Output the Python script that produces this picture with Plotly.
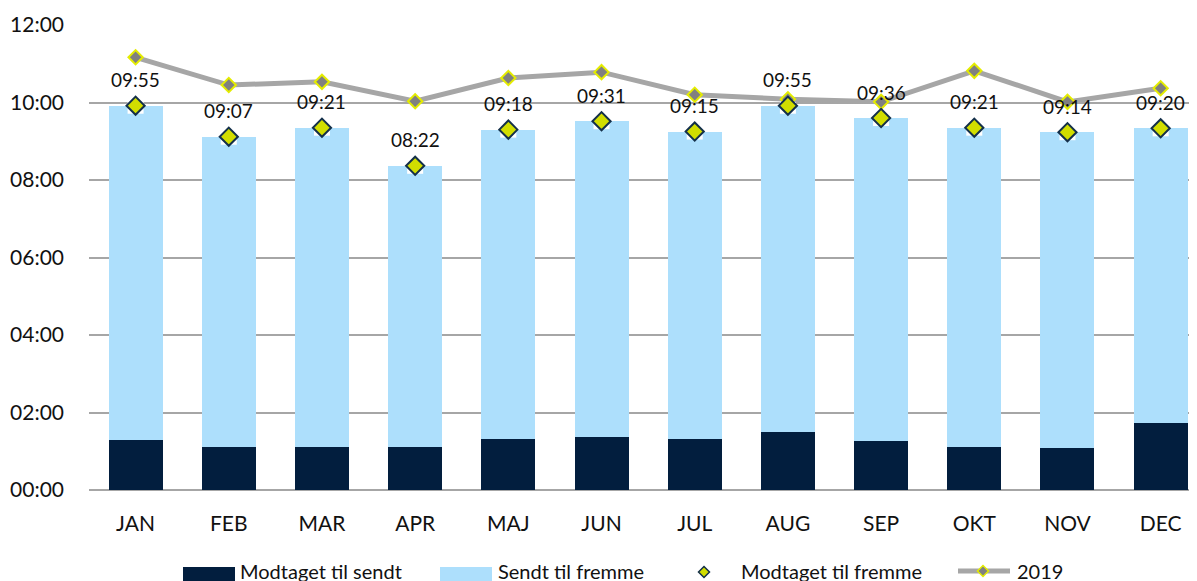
import plotly.graph_objects as go

months = ["JAN", "FEB", "MAR", "APR", "MAJ", "JUN", "JUL", "AUG", "SEP", "OKT", "NOV", "DEC"]
modtaget_til_sendt = ["01:17", "01:07", "01:07", "01:07", "01:19", "01:22", "01:19", "01:30", "01:16", "01:07", "01:05", "01:44"]
modtaget_til_fremme = ["09:55", "09:07", "09:21", "08:22", "09:18", "09:31", "09:15", "09:55", "09:36", "09:21", "09:14", "09:20"]
y2019 = ["11:10", "10:27", "10:32", "10:02", "10:38", "10:47", "10:12", "10:05", "10:01", "10:49", "10:01", "10:22"]
ytick_labels = ["00:00", "02:00", "04:00", "06:00", "08:00", "10:00", "12:00"]
legend_names = ["Modtaget til sendt", "Sendt til fremme", "Modtaget til fremme", "2019"]


def hours(s):
    h, m = s.split(":")
    return int(h) + int(m) / 60.0


sendt_h = [hours(v) for v in modtaget_til_sendt]
total_h = [hours(v) for v in modtaget_til_fremme]
fremme_h = [t - s for t, s in zip(total_h, sendt_h)]
line_h = [hours(v) for v in y2019]
tick_vals = [hours(v) for v in ytick_labels]

FONT = "Lato, 'Liberation Sans', sans-serif"
TXT = "#111111"
DARK = "#021E3E"
LIGHT = "#ADDFFC"
YG = "#D2DE00"
GRAY = "#A6A6A6"

# the page places the figure 8px from the top-left corner (default body margin)
OFF = 8
W, H = 1197, 581
ML, MT = 89 - OFF, 25 - OFF
PW, PH = 1108, 465
MR = W - ML - PW
MB = H - MT - PH


def px(x):
    """page pixel x -> paper coordinate"""
    return (x - OFF - ML) / PW


def py(y):
    """page pixel y -> paper coordinate"""
    return (MT + PH - (y - OFF)) / PH


fig = go.Figure()
fig.add_trace(go.Bar(x=months, y=sendt_h, name=legend_names[0],
                     marker=dict(color=DARK, line=dict(width=0)), hoverinfo="skip"))
fig.add_trace(go.Bar(x=months, y=fremme_h, name=legend_names[1],
                     marker=dict(color=LIGHT, line=dict(width=0)), hoverinfo="skip"))
# white patch behind diamonds
fig.add_trace(go.Scatter(x=months, y=total_h, mode="markers", showlegend=False,
                         marker=dict(symbol="square", size=16, color="white", line=dict(width=0)),
                         hoverinfo="skip"))
fig.add_trace(go.Scatter(x=months, y=line_h, name=legend_names[3], mode="lines+markers",
                         line=dict(color=GRAY, width=5),
                         marker=dict(symbol="diamond", size=11, color="#808080",
                                     line=dict(color="#E4EC00", width=2))))
fig.add_trace(go.Scatter(x=months, y=total_h, name=legend_names[2], mode="markers",
                         marker=dict(symbol="diamond", size=14, color=YG,
                                     line=dict(color="#14304A", width=2))))

# data labels
for m, v, lab in zip(months, total_h, modtaget_til_fremme):
    fig.add_annotation(x=m, y=v, text=lab, showarrow=False, yshift=26,
                       xanchor="center", yanchor="middle",
                       font=dict(family=FONT, size=19, color=TXT))

# custom legend
shapes = []
ly = 571
shapes.append(dict(type="rect", xref="paper", yref="paper", x0=px(183), x1=px(235),
                   y0=py(581), y1=py(567), fillcolor=DARK, line=dict(width=0)))
shapes.append(dict(type="rect", xref="paper", yref="paper", x0=px(440), x1=px(492),
                   y0=py(581), y1=py(567), fillcolor=LIGHT, line=dict(width=0)))


def diamond(cx, cy, r, fill, outline, lw):
    path = (f"M {px(cx - r)} {py(cy)} L {px(cx)} {py(cy - r)} "
            f"L {px(cx + r)} {py(cy)} L {px(cx)} {py(cy + r)} Z")
    return dict(type="path", xref="paper", yref="paper", path=path,
                fillcolor=fill, line=dict(color=outline, width=lw))


shapes.append(diamond(704, 572, 5.5, YG, "#14304A", 1.5))
shapes.append(dict(type="line", xref="paper", yref="paper", x0=px(958), x1=px(1010),
                   y0=py(571), y1=py(571), line=dict(color=GRAY, width=5)))
shapes.append(diamond(983, 571, 5.5, "#808080", "#E4EC00", 1.5))

for name, x0 in zip(legend_names, [238, 496, 739, 1015]):
    fig.add_annotation(xref="paper", yref="paper", x=px(x0), y=py(ly), text=name,
                       showarrow=False, xanchor="left", yanchor="middle",
                       font=dict(family=FONT, size=20, color=TXT))

fig.update_layout(
    barmode="stack",
    bargap=0.42,
    width=W, height=H,
    margin=dict(l=ML, r=MR, t=MT, b=MB),
    plot_bgcolor="white", paper_bgcolor="white",
    font=dict(family=FONT, size=21, color=TXT),
    showlegend=False,
    shapes=shapes,
    xaxis=dict(range=[-0.5, 11.39], showgrid=False, showline=False, ticks="",
               automargin=False, ticklabelstandoff=19,
               tickfont=dict(family=FONT, size=21, color=TXT),
               categoryorder="array", categoryarray=months),
    yaxis=dict(range=[0, 12], tickvals=tick_vals, ticktext=ytick_labels,
               showgrid=True, gridcolor=GRAY, gridwidth=2,
               zeroline=True, zerolinecolor=GRAY, zerolinewidth=2,
               showline=False, ticks="", ticklabelstandoff=24, automargin=False,
               tickfont=dict(family=FONT, size=21, color=TXT)),
)

fig.write_html("out.html")
